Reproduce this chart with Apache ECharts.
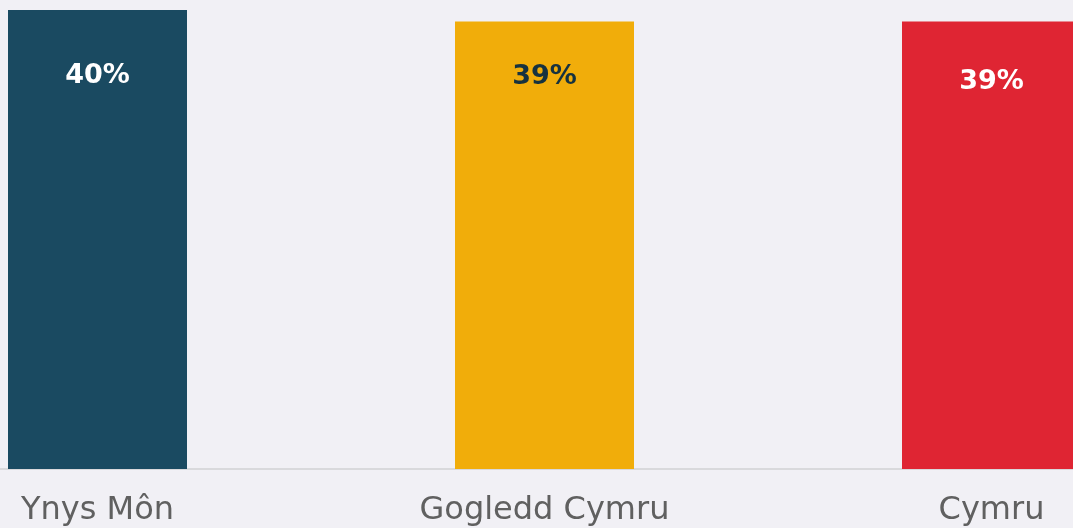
<!DOCTYPE html>
<html>
<head>
<meta charset="utf-8">
<script src="https://cdn.jsdelivr.net/npm/echarts@6/dist/echarts.min.js"></script>
<style>
  html, body { margin: 0; padding: 0; background: #f1f0f5; }
  #chart { width: 1073px; height: 528px; }
</style>
</head>
<body>
<div id="chart"></div>
<script>
// data
var categories = ["Ynys Môn", "Gogledd Cymru", "Cymru"];
var values = [40, 39, 39];

// styling per bar
var barColors = ["#1a4a61", "#f1ad0a", "#df2533"];
var labelColors = ["#ffffff", "#16323f", "#ffffff"];
var labelDistances = [52, 42, 47];

var myChart = echarts.init(document.getElementById("chart"));
var option;

option = {
  backgroundColor: "#f1f0f5",
  animation: false,
  grid: {
    left: -126,
    width: 1341,
    top: 10,
    bottom: 59,
    containLabel: false,
    outerBoundsMode: "none",
  },
  xAxis: {
    type: "category",
    data: categories,
    axisLine: { lineStyle: { color: "#d9d9dc", width: 2 } },
    axisTick: { show: false },
    axisLabel: {
      color: "#606060",
      fontFamily: "DejaVu Sans",
      fontSize: 32,
      margin: 26,
    },
  },
  yAxis: {
    type: "value",
    min: 0,
    max: 40,
    show: false,
    splitLine: { show: false },
  },
  series: [
    {
      type: "bar",
      barWidth: 179,
      data: values.map(function (v, i) {
        return {
          value: v,
          itemStyle: { color: barColors[i] },
          label: { color: labelColors[i], distance: labelDistances[i] },
        };
      }),
      label: {
        show: true,
        position: "insideTop",
        formatter: "{c}%",
        fontFamily: "DejaVu Sans",
        fontWeight: "bold",
        fontSize: 27,
      },
    },
  ],
};

option && myChart.setOption(option);
</script>
</body>
</html>
